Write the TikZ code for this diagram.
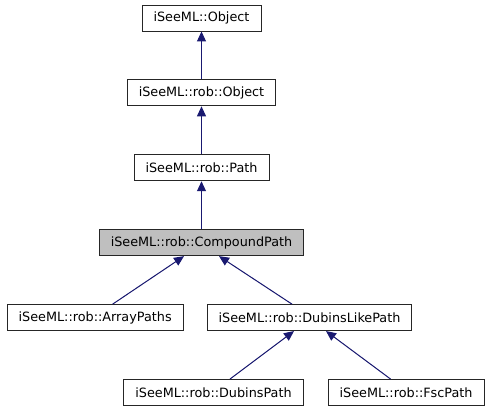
\documentclass[tikz,border=0pt]{standalone}
\usepackage{fontspec}
\setmainfont{DejaVu Sans}
\usepackage{tikz}
\usetikzlibrary{arrows.meta, positioning, calc}

\begin{document}
\begin{tikzpicture}[
    x=1pt, y=1pt,
    node distance=48pt and 23pt,
    cls/.style={rectangle, draw=black!85, fill=white, line width=0.9pt,
                minimum height=26pt, inner xsep=11.5pt, inner ysep=0pt,
                font=\fontsize{12.8}{14}\selectfont},
    current/.style={cls, fill=black!25},
    edge/.style={-{Triangle[length=10pt, width=9pt]}, line width=1pt,
                 draw=mnblue, fill=mnblue}
]
\definecolor{mnblue}{HTML}{191970}
\useasboundingbox (0,0) rectangle (491,-411);

\node[cls] (object) at (201.5,-18) {iSeeML::Object};
\node[cls, below=of object] (robobject) {iSeeML::rob::Object};
\node[cls, below=of robobject] (path) {iSeeML::rob::Path};
\node[current, below=of path] (compound) {iSeeML::rob::CompoundPath};

\node[cls, below=of compound, xshift=108pt] (dubinslike) {iSeeML::rob::DubinsLikePath};
\node[cls, left=of dubinslike] (arraypaths) {iSeeML::rob::ArrayPaths};
\node[cls, below=of dubinslike, xshift=-96pt] (dubinspath) {iSeeML::rob::DubinsPath};
\node[cls, right=24pt of dubinspath] (fscpath) {iSeeML::rob::FscPath};

\draw[edge] (robobject) -- (object);
\draw[edge] (path) -- (robobject);
\draw[edge] (compound) -- (path);
\draw[edge] ($(arraypaths.north)+(17.5,0)$) -- ($(compound.south)+(-17.5,0)$);
\draw[edge] ($(dubinslike.north)+(-17.5,0)$) -- ($(compound.south)+(17.5,0)$);
\draw[edge] ($(dubinspath.north)+(16.5,0)$) -- ($(dubinslike.south)+(-15.5,0)$);
\draw[edge] ($(fscpath.north)+(-15.5,0)$) -- ($(dubinslike.south)+(16.5,0)$);

\end{tikzpicture}
\end{document}
